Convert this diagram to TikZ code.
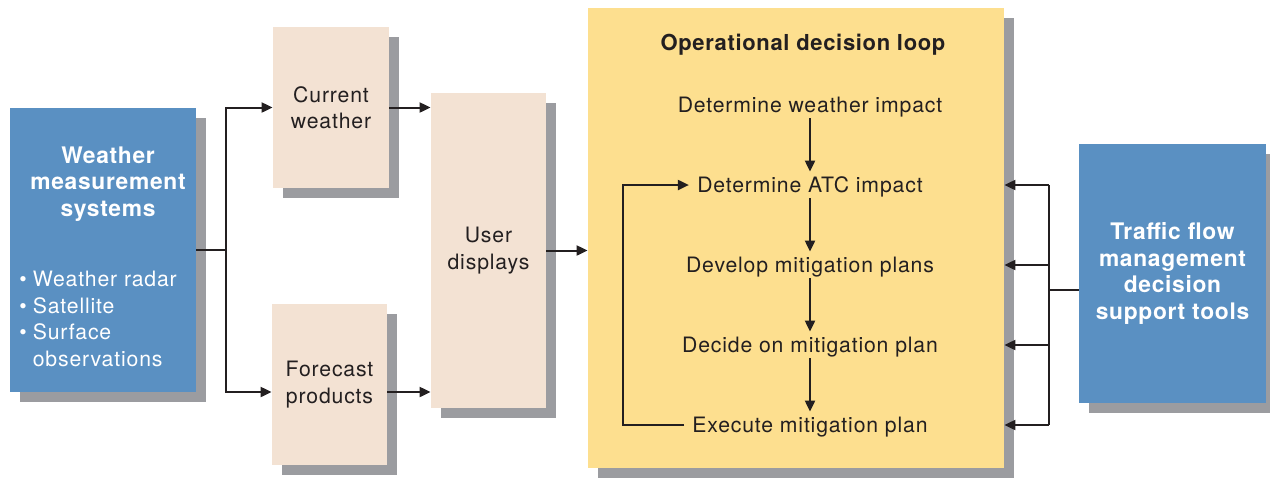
\documentclass[tikz,border=0pt]{standalone}
\usepackage{fontspec}
\setmainfont{TeX Gyre Heros}[LetterSpace=4]
\newfontfamily\headfont{TeX Gyre Heros}[LetterSpace=3]
\usetikzlibrary{arrows.meta,shadows,calc}

\definecolor{ink}{RGB}{35,31,32}
\definecolor{sysblue}{RGB}{90,144,194}
\definecolor{shadowgray}{RGB}{155,156,160}
\definecolor{beige}{RGB}{243,226,211}
\definecolor{loopyellow}{RGB}{253,223,143}

\newcommand{\plainfont}{\fontsize{10.6}{13.25}\selectfont}
\newcommand{\boxbold}{\headfont\bfseries\fontsize{11.4}{13.3}\selectfont}
\newcommand{\titlebold}{\headfont\bfseries\fontsize{11}{13.3}\selectfont}

\tikzset{
  shadowed/.style={drop shadow={shadow xshift=5pt, shadow yshift=-5pt,
      fill=shadowgray, opacity=1}},
  bluebox/.style={shadowed, fill=sysblue, inner sep=0pt, text=white,
      font=\boxbold, align=center},
  beigebox/.style={shadowed, fill=beige, inner sep=0pt, text=ink,
      font=\plainfont, align=center},
  loopbox/.style={shadowed, fill=loopyellow, inner sep=0pt},
  steptext/.style={text=ink, font=\plainfont, text height=9pt,
      text depth=2pt, inner xsep=4pt, inner ysep=1pt},
  ln/.style={draw=ink, line width=1pt},
  arr/.style={ln, -{Triangle[length=5.5pt,width=5pt]}},
}

\begin{document}
\begin{tikzpicture}[x=0.5pt, y=-0.5pt]
\useasboundingbox (0,0) rectangle (1270,478);

% boxes
\node[bluebox, minimum width=93pt, minimum height=142pt] (wms) at (103,250) {};
\node[text=white, font=\boxbold, align=center, inner sep=0pt] (wmstitle) at (108,184)
  {Weather\\measurement\\systems};
\node[text=white, font=\plainfont, anchor=west, inner sep=0pt] (wmslist) at (19,321)
  {\begin{tabular}{@{}l@{\hspace{3pt}}l@{}}
    \textbullet & Weather radar\\
    \textbullet & Satellite\\
    \textbullet & Surface\\
                & observations
  \end{tabular}};

\node[beigebox, minimum width=58pt, minimum height=80.5pt] (cw) at (331,107.5) {Current\\weather};
\node[beigebox, minimum width=57.5pt, minimum height=80.5pt] (fc) at (329.5,384.5) {Forecast\\products};
\node[beigebox, minimum width=57.5pt, minimum height=157.5pt] (ud) at (488.5,250.5) {User\\displays};

\node[loopbox, minimum width=208pt, minimum height=230pt] (loop) at (796,238) {};
\node[bluebox, minimum width=93.5pt, minimum height=129.5pt] (tfm) at (1172.5,273.5)
  {Traffic flow\\management\\decision\\support tools};

% decision loop contents
\node[text=ink, font=\titlebold, anchor=base, inner sep=0pt] (ttl) at (803,50) {Operational decision loop};
\node[steptext, anchor=base] (s1) at (810,112) {Determine weather impact};
\node[steptext, anchor=base] (s2) at (810,192) {Determine ATC impact};
\node[steptext, anchor=base] (s3) at (810,272) {Develop mitigation plans};
\node[steptext, anchor=base] (s4) at (810,352) {Decide on mitigation plan};
\node[steptext, anchor=base] (s5) at (810,432) {Execute mitigation plan};

\draw[arr] (s1.south) -- (s2.north);
\draw[arr] (s2.south) -- (s3.north);
\draw[arr] (s3.south) -- (s4.north);
\draw[arr] (s4.south) -- (s5.north);

\coordinate (fbx) at (623,0);
\draw[arr] (s5.west) -| (s2.west -| fbx) -- (s2.west);

% inputs on the left
\coordinate (split) at (226,0);
\coordinate (fcrow) at (0,392);
\draw[ln] (wms.east) -- (wms.east -| split);
\draw[arr] (wms.east -| split) |- (cw.west);
\draw[arr] (wms.east -| split) |- (fc.west |- fcrow);
\draw[arr] (cw.east) -- (cw.east -| ud.west);
\draw[arr] (fc.east |- fcrow) -- (ud.west |- fcrow);
\draw[arr] (ud.east) -- (ud.east -| loop.west);

% decision support tools feeding the loop
\coordinate (bus) at (1049,290);
\draw[ln] (tfm.west |- bus) -- (bus);
\draw[ln] (bus |- s2) -- (bus |- s5);
\foreach \s in {s2,s3,s4,s5}
  \draw[arr] (bus |- \s) -- (loop.east |- \s);
\end{tikzpicture}
\end{document}
